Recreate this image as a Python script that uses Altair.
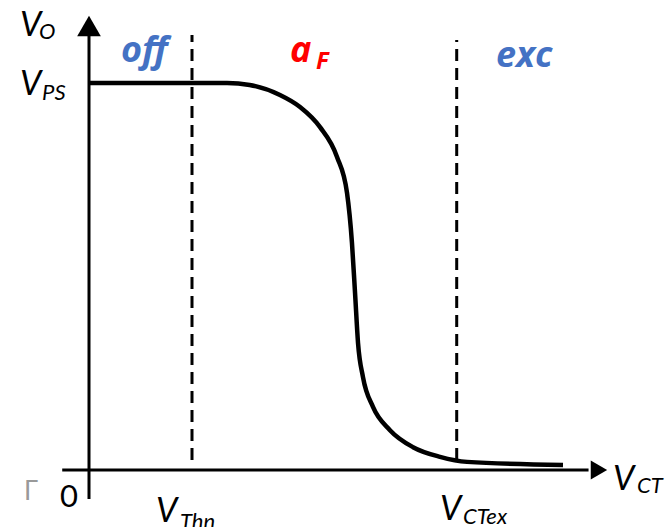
import altair as alt
import pandas as pd

# Transfer characteristic V_O(V_CT), normalised: V_PS = 1, V_Thn = 1
curve_vct = [0.0, 1.34, 1.56, 1.854, 2.049, 2.243, 2.408, 2.505, 2.553, 2.583,
             2.612, 2.660, 2.757, 2.922, 3.146, 3.408, 3.670, 4.602]
curve_vo = [1.0, 1.0, 0.995, 0.969, 0.938, 0.886, 0.809, 0.716, 0.587, 0.457,
            0.328, 0.240, 0.163, 0.103, 0.059, 0.034, 0.021, 0.013]

V_PS = 1.0
V_THN = 1.0
V_CTEX = 3.57

# region names above the curve
region_text = ["off", "exc"]
region_x = [0.311, 3.951]

FONT = "Lato"
REGION_FONT = "Open Sans"
BLUE = "#4472C4"
RED = "#FF0000"

X_DOM = [-89 / 103, 576 / 103]
Y_DOM = [-57 / 387, 470 / 387]
xs = alt.Scale(domain=X_DOM, nice=False, zero=False)
ys = alt.Scale(domain=Y_DOM, nice=False, zero=False)


def X(field):
    return alt.X(field, type="quantitative", scale=xs, axis=None)


def Y(field):
    return alt.Y(field, type="quantitative", scale=ys, axis=None)


curve = alt.Chart(pd.DataFrame({"vct": curve_vct, "vo": curve_vo})).mark_line(
    color="black", strokeWidth=4.5, interpolate="monotone"
).encode(x=X("vct"), y=Y("vo"), order="vct:Q")

axes_df = pd.DataFrame({
    "x": [-0.26, 0.0], "x2": [4.85, 0.0],
    "y": [0.0, -0.075], "y2": [0.0, 1.14],
})
axes = alt.Chart(axes_df).mark_rule(color="black", strokeWidth=3).encode(
    x=X("x"), x2="x2", y=Y("y"), y2="y2"
)

arrows_df = pd.DataFrame({
    "x": [4.951, 0.0], "y": [0.0, 1.147],
    "shape": ["triangle-right", "triangle-up"], "size": [360, 560],
})
arrows = alt.Chart(arrows_df).mark_point(filled=True, color="black", opacity=1, strokeWidth=0).encode(
    x=X("x"), y=Y("y"),
    shape=alt.Shape("shape:N", scale=None),
    size=alt.Size("size:Q", scale=None),
)

guides_df = pd.DataFrame({"x": [V_THN, V_CTEX], "y": [0.026, 0.026], "y2": [1.124, 1.111]})
guides = alt.Chart(guides_df).mark_rule(
    color="black", strokeWidth=3, strokeDash=[12, 7]
).encode(x=X("x"), y=Y("y"), y2="y2")

# symbol labels: big italic "V" plus a smaller italic subscript
sym_df = pd.DataFrame({
    "t": ["V", "O", "V", "PS", "V", "Thn", "V", "CTex", "V", "CT"],
    "x": [-0.670, -0.485, -0.670, -0.456, V_THN - 0.350, V_THN - 0.117,
          V_CTEX - 0.162, V_CTEX + 0.061, 5.087, 5.320],
    "y": [1.121, 1.114, V_PS - 0.031, V_PS - 0.044, -0.134, -0.152,
          -0.129, -0.140, -0.052, -0.059],
    "s": [34, 22, 34, 22, 34, 22, 34, 22, 34, 22],
})
symbols = alt.Chart(sym_df).mark_text(
    font=FONT, fontStyle="italic", align="left", baseline="alphabetic", color="black"
).encode(x=X("x"), y=Y("y"), text="t:N", size=alt.Size("s:Q", scale=None))

zero = alt.Chart(pd.DataFrame({"t": ["0"], "x": [-0.282], "y": [-0.096]})).mark_text(
    font=FONT, fontSize=31, align="left", baseline="alphabetic", color="black"
).encode(x=X("x"), y=Y("y"), text="t:N")

# small grey stub at the lower left
stub = alt.Chart(pd.DataFrame({"t": ["Г"], "x": [-0.63], "y": [-0.078]})).mark_text(
    font=FONT, fontSize=26, align="left", baseline="alphabetic", color="#999999"
).encode(x=X("x"), y=Y("y"), text="t:N")

regions = alt.Chart(pd.DataFrame({"t": region_text, "x": region_x, "y": [1.054, 1.041]})).mark_text(
    font=REGION_FONT, fontStyle="italic", fontWeight="bold", fontSize=36,
    align="left", baseline="alphabetic", color=BLUE
).encode(x=X("x"), y=Y("y"), text="t:N")

alpha_df = pd.DataFrame({"t": ["a", "F"], "x": [1.951, 2.204], "y": [1.054, 1.036], "s": [36, 24]})
alpha = alt.Chart(alpha_df).mark_text(
    font=REGION_FONT, fontStyle="italic", fontWeight="bold",
    align="left", baseline="alphabetic", color=RED
).encode(x=X("x"), y=Y("y"), text="t:N", size=alt.Size("s:Q", scale=None))

chart = alt.layer(guides, axes, arrows, curve, symbols, zero, stub, regions, alpha).properties(
    width=665, height=527, padding=0, autosize=alt.AutoSizeParams(type="none"),
    background="white",
).configure_view(strokeWidth=0)

chart.save("out.html", embed_options={"renderer": "svg", "actions": False})
